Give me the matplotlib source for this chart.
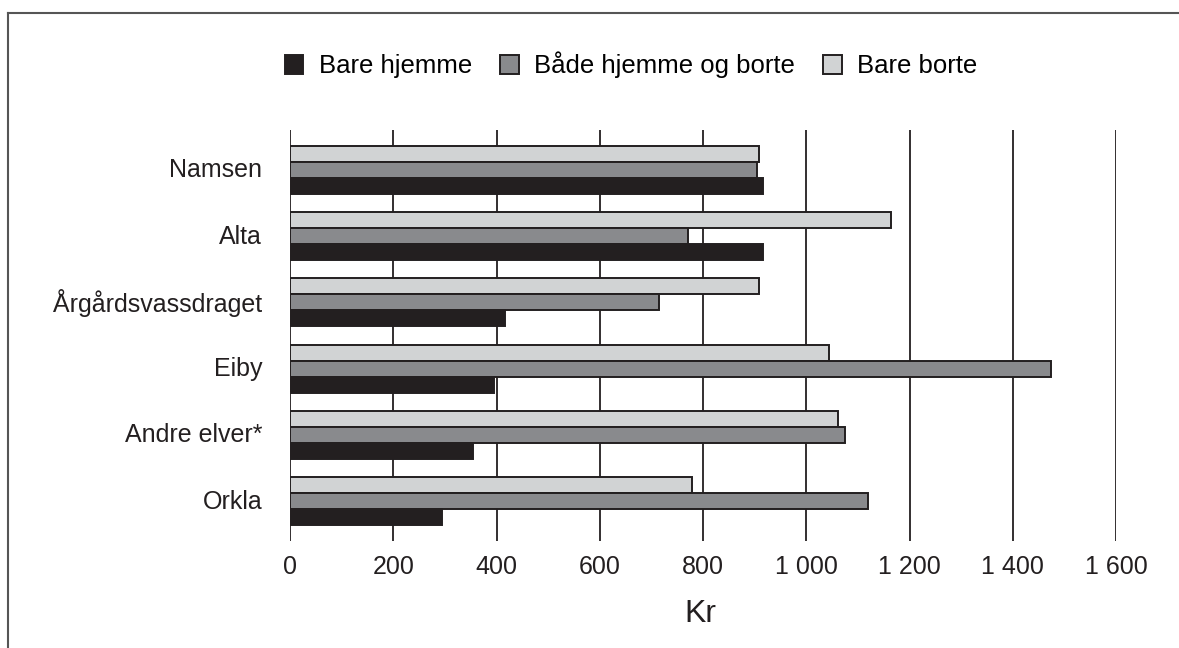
import numpy as np
import matplotlib
matplotlib.use('Agg')
import matplotlib.pyplot as plt
from matplotlib.patches import Patch
from matplotlib.lines import Line2D

plt.rcParams['font.family'] = ['Liberation Sans', 'DejaVu Sans']

# ── Data
categories   = ['Namsen', 'Alta', 'Årgårdsvassdraget', 'Eiby', 'Andre elver*', 'Orkla']
bare_hjemme  = [916, 916, 416, 395, 355, 294]
baade        = [905, 771, 714, 1475, 1075, 1120]
bare_borte   = [908, 1165, 908, 1045, 1061, 778]
series_names = ['Bare hjemme', 'Både hjemme og borte', 'Bare borte']
xticks       = [0, 200, 400, 600, 800, 1000, 1200, 1400, 1600]
xtick_labels = ['0', '200', '400', '600', '800', '1 000', '1 200', '1 400', '1 600']

c_dark, c_mid, c_light = '#231f20', '#898a8d', '#d1d3d4'
edge = '#231f20'

fig = plt.figure(figsize=(11.79, 6.48), dpi=100)
ax = fig.add_axes([290 / 1179, 1 - 541 / 648, (1116 - 290) / 1179, (541 - 130) / 648])

y = np.arange(len(categories))
h = 0.241
ax.barh(y - h, bare_borte, height=h, color=c_light, edgecolor=edge, linewidth=1.4, zorder=3)
ax.barh(y, baade, height=h, color=c_mid, edgecolor=edge, linewidth=1.4, zorder=3)
ax.barh(y + h, bare_hjemme, height=h, color=c_dark, edgecolor=edge, linewidth=1.4, zorder=3)

ax.set_xlim(0, 1600)
ax.set_ylim(len(categories) - 0.4, -0.6)
ax.set_xticks(xticks)
ax.set_xticklabels(xtick_labels, fontsize=18, color='#231f20')
ax.set_yticks(y - 0.03)
ax.set_yticklabels(categories, fontsize=18, color='#231f20')
ax.tick_params(axis='both', length=0)
ax.tick_params(axis='x', pad=10)
ax.tick_params(axis='y', pad=20)
for s in ax.spines.values():
    s.set_visible(False)
for xv in xticks:
    ax.axvline(xv, color='#231f20', linewidth=1.3, zorder=1)

fig.text(700 / 1179, 1 - 614 / 648, 'Kr', fontsize=23, ha='center', va='center',
         color='#231f20')

handles = [Patch(facecolor=c, edgecolor=edge, linewidth=1.4)
           for c in (c_dark, c_mid, c_light)]
fig.legend(handles, series_names, loc='center', bbox_to_anchor=(631 / 1179, 1 - 65 / 648),
           ncol=3, frameon=False, fontsize=18.5, handlelength=0.72, handleheight=0.72,
           handletextpad=0.6, columnspacing=1.1)

# outer frame (top and left only)
fig.add_artist(Line2D([8 / 1179, 1], [1 - 13 / 648, 1 - 13 / 648], color='#555555',
                      linewidth=1.5, transform=fig.transFigure))
fig.add_artist(Line2D([8 / 1179, 8 / 1179], [0, 1 - 13 / 648], color='#555555',
                      linewidth=1.5, transform=fig.transFigure))

fig.savefig('out.png', dpi=100)
